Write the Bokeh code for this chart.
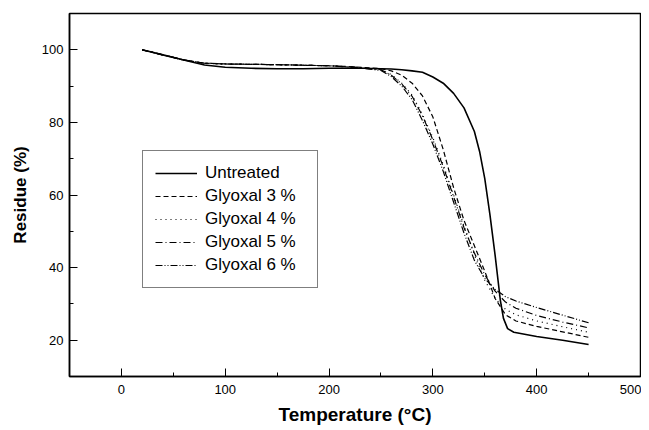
from bokeh.plotting import figure
from bokeh.models import Legend, LegendItem, SingleIntervalTicker, Range1d
from bokeh.embed import file_html
from bokeh.resources import INLINE

# ---- data ----
t_untreated = [20, 40, 60, 80, 100, 125, 150, 175, 200, 225, 250, 260, 270, 280, 290, 300,
               310, 320, 330, 340, 345, 350, 355, 360, 365, 368, 372, 378, 400, 425, 450]
r_untreated = [100, 98.6, 97.2, 95.8, 95.2, 94.9, 94.8, 94.8, 94.9, 95.0, 94.8, 94.7, 94.5, 94.2,
               93.8, 92.5, 90.8, 88.0, 84.0, 77.5, 72.0, 64.5, 54.5, 43.3, 31.0, 26.0, 23.2, 22.2,
               21.0, 20.0, 18.8]

t_glyoxal = [20, 40, 60, 80, 100, 150, 200, 225, 250, 260, 270, 280, 290, 300, 310, 320,
             330, 340, 350, 360, 370, 380, 400, 425, 450]
r_glyoxal3 = [100, 98.6, 97.2, 96.3, 96.1, 95.9, 95.6, 95.3, 94.8, 94.2, 93.0, 90.8, 87.3, 81.5,
              72.5, 62.0, 53.0, 46.0, 39.0, 31.5, 27.0, 25.3, 23.8, 22.3, 20.8]
r_glyoxal4 = [100, 98.6, 97.2, 96.3, 96.1, 95.9, 95.6, 95.2, 94.5, 93.2, 90.8, 87.5, 82.2, 75.8,
              68.3, 60.0, 51.5, 43.5, 36.5, 31.5, 28.5, 27.0, 25.3, 23.7, 22.2]
r_glyoxal5 = [100, 98.6, 97.2, 96.3, 96.1, 95.9, 95.6, 95.2, 94.5, 93.0, 90.6, 87.2, 81.8, 75.2,
              67.8, 59.5, 51.0, 44.0, 38.0, 33.5, 30.5, 28.8, 26.8, 25.0, 23.4]
r_glyoxal6 = [100, 98.6, 97.2, 96.3, 96.1, 95.9, 95.6, 95.2, 94.3, 92.6, 90.0, 86.3, 80.5, 74.0,
              66.5, 58.0, 49.5, 42.0, 37.0, 34.0, 32.0, 30.8, 29.0, 26.9, 24.8]

labels = ["Untreated", "Glyoxal 3 %", "Glyoxal 4 %", "Glyoxal 5 %", "Glyoxal 6 %"]

FONT = "Liberation Sans"

p = figure(width=641, height=427, output_backend="svg", toolbar_location=None,
           x_range=Range1d(-50, 500), y_range=Range1d(10, 110),
           min_border_left=69, min_border_right=1, min_border_top=13, min_border_bottom=50)

p.xgrid.visible = False
p.ygrid.visible = False
p.outline_line_color = "black"
p.outline_line_width = 1.5
p.background_fill_color = "white"
p.border_fill_color = "white"

p.xaxis.ticker = SingleIntervalTicker(interval=100, num_minor_ticks=2)
p.yaxis.ticker = SingleIntervalTicker(interval=20, num_minor_ticks=2)

for ax in (p.xaxis[0], p.yaxis[0]):
    ax.axis_line_color = "black"
    ax.axis_line_width = 1.5
    ax.major_tick_in = 8
    ax.major_tick_out = 0
    ax.minor_tick_in = 4
    ax.minor_tick_out = 0
    ax.major_tick_line_color = "black"
    ax.minor_tick_line_color = "black"
    ax.major_label_text_font = FONT
    ax.major_label_text_font_size = "13px"
    ax.major_label_text_color = "black"
    ax.axis_label_text_font = FONT
    ax.axis_label_text_font_style = "bold"
    ax.axis_label_text_color = "black"

p.xaxis.major_label_standoff = 8
p.xaxis.axis_label_standoff = 7
p.xaxis.axis_label_text_font_size = "19px"
p.yaxis.major_label_standoff = 6
p.yaxis.axis_label_standoff = 9
p.yaxis.axis_label_text_font_size = "17px"

p.xaxis.axis_label = "Temperature (°C)"
p.yaxis.axis_label = "Residue (%)"

r0 = p.line(t_untreated, r_untreated, line_color="black", line_width=1.6)
r1 = p.line(t_glyoxal, r_glyoxal3, line_color="black", line_width=1.2, line_dash="5 3")
r2 = p.line(t_glyoxal, r_glyoxal4, line_color="black", line_width=1.2, line_dash="1 4")
r3 = p.line(t_glyoxal, r_glyoxal5, line_color="black", line_width=1.2, line_dash="7 3 1 3")
r4 = p.line(t_glyoxal, r_glyoxal6, line_color="black", line_width=1.2, line_dash="7 2 1 2 1 2")

legend = Legend(items=[LegendItem(label=l, renderers=[r]) for l, r in
                       zip(labels, [r0, r1, r2, r3, r4])],
                location=(73, 88))
legend.border_line_color = "black"
legend.border_line_width = 1
legend.padding = 12
legend.spacing = 3
legend.glyph_width = 42
legend.glyph_height = 20
legend.label_height = 20
legend.label_width = 100
legend.label_standoff = 8
legend.label_text_font = FONT
legend.label_text_font_size = "17px"
legend.label_text_color = "black"
legend.background_fill_alpha = 1
p.add_layout(legend, "center")

open("out.html", "w").write(file_html(p, INLINE))
